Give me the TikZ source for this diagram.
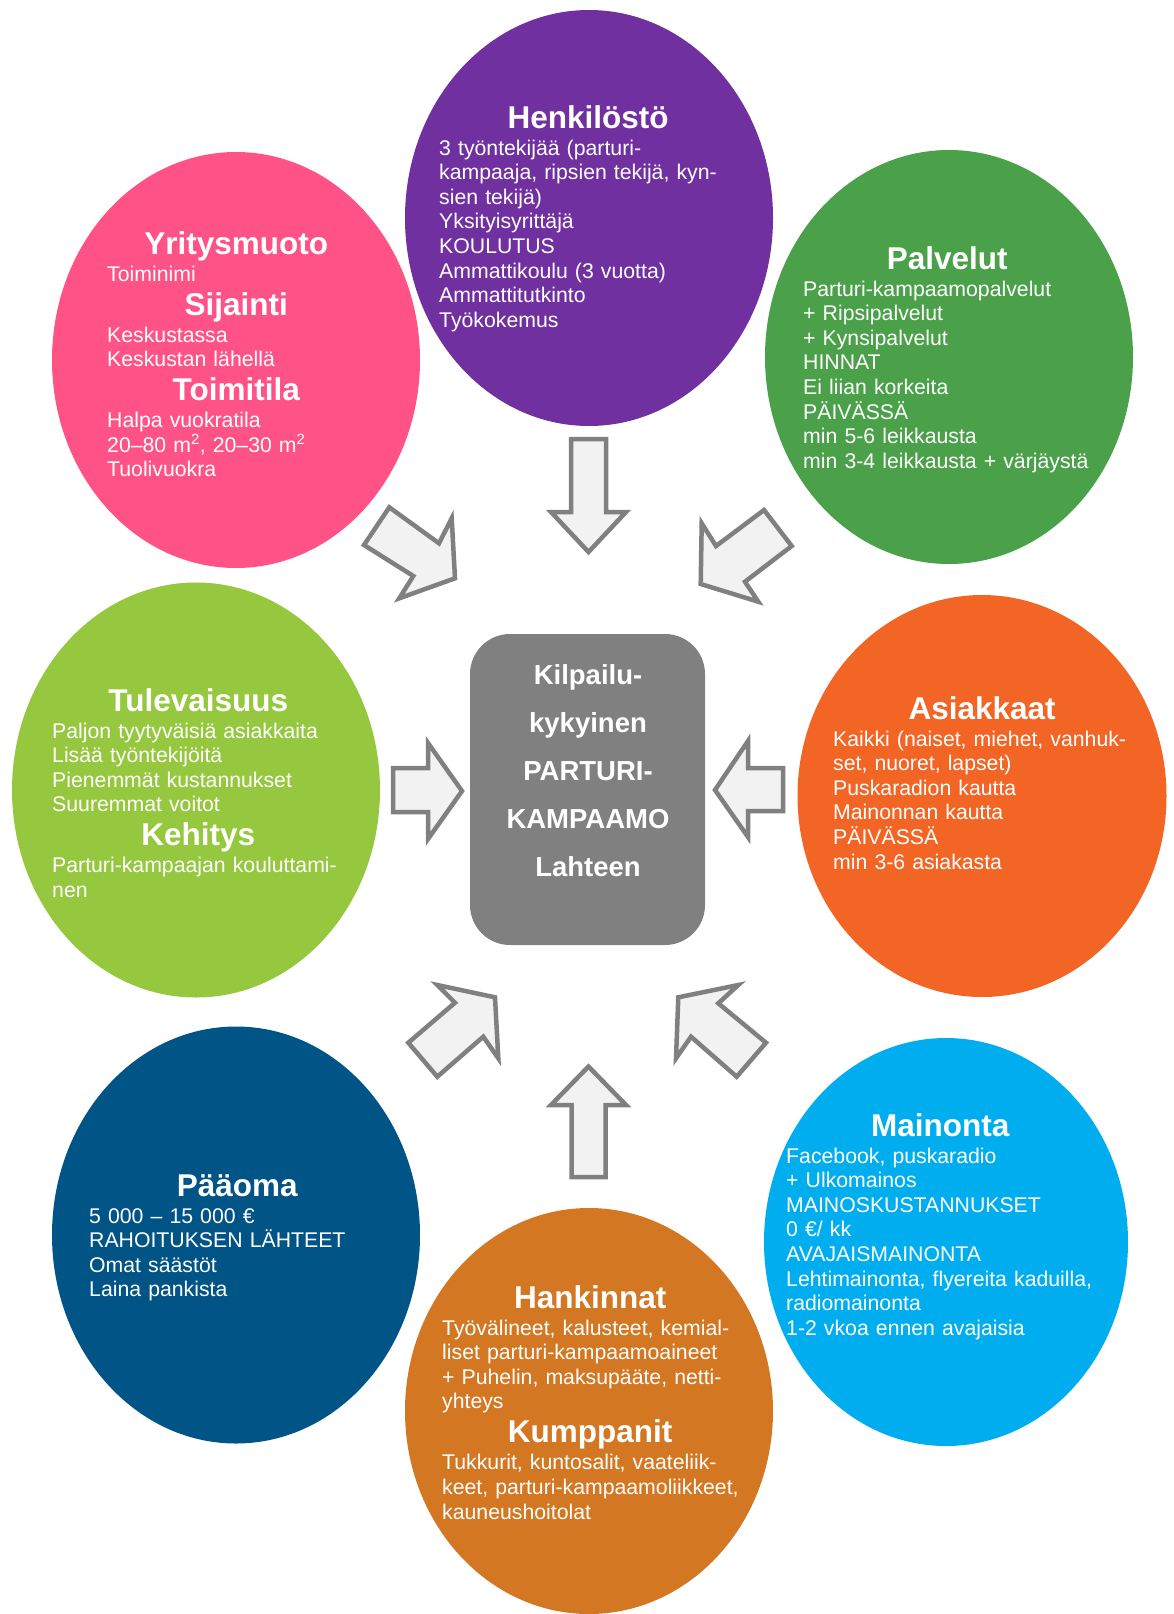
\documentclass[tikz,border=0pt]{standalone}
\usepackage{fontspec}
\setmainfont{Liberation Sans}
\usetikzlibrary{shapes.geometric}
\definecolor{cpink}{HTML}{FF5286}
\definecolor{cpurple}{HTML}{7030A0}
\definecolor{cgreen}{HTML}{4BA04A}
\definecolor{clime}{HTML}{95C83F}
\definecolor{corange}{HTML}{F26524}
\definecolor{cnavy}{HTML}{005486}
\definecolor{ccyan}{HTML}{00AEEF}
\definecolor{cbrown}{HTML}{D47722}
\definecolor{boxgray}{HTML}{808080}
\definecolor{arrowfill}{HTML}{F2F2F2}
\definecolor{arrowline}{HTML}{808080}
\newcommand{\bodyfont}{\fontsize{21.25}{24.6}\selectfont\lineskiplimit=-1000pt\relax}
\newcommand{\ctitle}[2]{\hspace*{#1pt}\makebox[0pt][c]{\fontsize{31.5}{33}\selectfont\bfseries #2}}
\tikzset{
  bubble/.style={ellipse, inner sep=0pt, draw=none},
  bodytext/.style={text=white, inner sep=0pt, text width=340pt, align=left, anchor=base west, font=\bodyfont},
  blockarrow/.style={fill=arrowfill, draw=arrowline, line width=4.5pt, line join=miter},
}
\begin{document}
\begin{tikzpicture}[x=1pt,y=-1pt]
\path[use as bounding box, fill=white] (0,0) rectangle (1173,1614);

% ellipses
\node[bubble, fill=cpink,   minimum width=368pt, minimum height=416pt] (e1) at (236,360) {};
\node[bubble, fill=cpurple, minimum width=368pt, minimum height=416pt] (e2) at (589,218) {};
\node[bubble, fill=cgreen,  minimum width=368pt, minimum height=414pt] (e3) at (949,357) {};
\node[bubble, fill=clime,   minimum width=368pt, minimum height=415pt] (e4) at (196,790) {};
\node[bubble, fill=corange, minimum width=369pt, minimum height=402pt] (e5) at (982,796) {};
\node[bubble, fill=cnavy,   minimum width=368pt, minimum height=417pt] (e6) at (236,1235) {};
\node[bubble, fill=ccyan,   minimum width=364pt, minimum height=408pt] (e7) at (946,1242) {};
\node[bubble, fill=cbrown,  minimum width=368pt, minimum height=406pt] (e8) at (589,1411) {};

% centre box
\node[fill=boxgray, rounded corners=40pt, minimum width=235pt, minimum height=311pt, inner sep=0pt] (center) at (587.5,789.5) {};
\node[text=white, inner sep=0pt, text width=235pt, align=center, anchor=base,
      font=\fontsize{27.5}{48.2}\selectfont\bfseries] (ctext) at (588,684)
  {Kilpailu-\\kykyinen\\PARTURI-\\KAMPAAMO\\Lahteen};

% texts
\node[bodytext] (t1) at (107,254) {\ctitle{129}{Yritysmuoto}\\[2.4pt]
Toiminimi\\[9.4pt]
\ctitle{129}{Sijainti}\\[2.4pt]
Keskustassa\\
Keskustan lähellä\\[9.4pt]
\ctitle{129}{Toimitila}\\[2.4pt]
Halpa vuokratila\\
20–80 m\textsuperscript{2}, 20–30 m\textsuperscript{2}\\
Tuolivuokra};

\node[bodytext] (t2) at (439,128) {\ctitle{149}{Henkilöstö}\\[2.4pt]
3 työntekijää (parturi-\\
kampaaja, ripsien tekijä, kyn-\\
sien tekijä)\\
Yksityisyrittäjä\\
KOULUTUS\\
Ammattikoulu (3 vuotta)\\
Ammattitutkinto\\
Työkokemus};

\node[bodytext] (t3) at (803,269) {\ctitle{144}{Palvelut}\\[2.4pt]
Parturi-kampaamopalvelut\\
+ Ripsipalvelut\\
+ Kynsipalvelut\\
HINNAT\\
Ei liian korkeita\\
PÄIVÄSSÄ\\
min 5-6 leikkausta\\
min 3-4 leikkausta + värjäystä};

\node[bodytext] (t4) at (52,711) {\ctitle{146}{Tulevaisuus}\\[2.4pt]
Paljon tyytyväisiä asiakkaita\\
Lisää työntekijöitä\\
Pienemmät kustannukset\\
Suuremmat voitot\\[9.4pt]
\ctitle{146}{Kehitys}\\[2.4pt]
Parturi-kampaajan kouluttami-\\
nen};

\node[bodytext] (t5) at (833,719) {\ctitle{149}{Asiakkaat}\\[2.4pt]
Kaikki (naiset, miehet, vanhuk-\\
set, nuoret, lapset)\\
Puskaradion kautta\\
Mainonnan kautta\\
PÄIVÄSSÄ\\
min 3-6 asiakasta};

\node[bodytext] (t6) at (89,1196) {\ctitle{148}{Pääoma}\\[2.4pt]
5 000 – 15 000 €\\
RAHOITUKSEN LÄHTEET\\
Omat säästöt\\
Laina pankista};

\node[bodytext] (t7) at (786,1136) {\ctitle{154}{Mainonta}\\[2.4pt]
Facebook, puskaradio\\
+ Ulkomainos\\
MAINOSKUSTANNUKSET\\
0 €/ kk\\
AVAJAISMAINONTA\\
Lehtimainonta, flyereita kaduilla,\\
radiomainonta\\
1-2 vkoa ennen avajaisia};

\node[bodytext] (t8) at (442,1308) {\ctitle{148}{Hankinnat}\\[2.4pt]
Työvälineet, kalusteet, kemial-\\
liset parturi-kampaamoaineet\\
+ Puhelin, maksupääte, netti-\\
yhteys\\[9.4pt]
\ctitle{148}{Kumppanit}\\[2.4pt]
Tukkurit, kuntosalit, vaateliik-\\
keet, parturi-kampaamoliikkeet,\\
kauneushoitolat};

% block arrows
% top (down)
\draw[blockarrow] (571,439) -- (606,439) -- (606,512) -- (626,512) -- (588.5,552)
  -- (551,512) -- (571,512) -- cycle;
% top-left (down-right)
\draw[blockarrow] (389.3,507.3) -- (439,543.3) -- (451.7,518.3) -- (455,578.3)
  -- (399.3,598.3) -- (413.3,576) -- (364,545) -- cycle;
% top-right (down-left)
\draw[blockarrow] (764,510) -- (791.7,546) -- (745,581.7) -- (758.3,601.7)
  -- (700.7,584) -- (701.7,523.3) -- (716,546) -- cycle;
% left (right)
\draw[blockarrow] (393,768) -- (428,768) -- (428,743) -- (462,791) -- (428,839)
  -- (428,812) -- (393,812) -- cycle;
% right (left)
\draw[blockarrow] (783,768) -- (748,768) -- (748,741) -- (715,790) -- (748,837)
  -- (748,811) -- (783,811) -- cycle;
% bottom-left (up-right)
\draw[blockarrow] (437.3,985) -- (495,997.3) -- (498.3,1058.3) -- (483.3,1036.7)
  -- (437.3,1076.7) -- (408.3,1042.7) -- (455,1002.7) -- cycle;
% bottom-right (up-left)
\draw[blockarrow] (738.3,985) -- (678.3,997.3) -- (676,1058.3) -- (691,1036.7)
  -- (736.7,1076.7) -- (766,1042.7) -- (718.3,1003.3) -- cycle;
% bottom (up)
\draw[blockarrow] (571.5,1177) -- (605.5,1177) -- (605.5,1105) -- (626,1105)
  -- (588.5,1066.5) -- (551,1105) -- (571.5,1105) -- cycle;
\end{tikzpicture}
\end{document}
